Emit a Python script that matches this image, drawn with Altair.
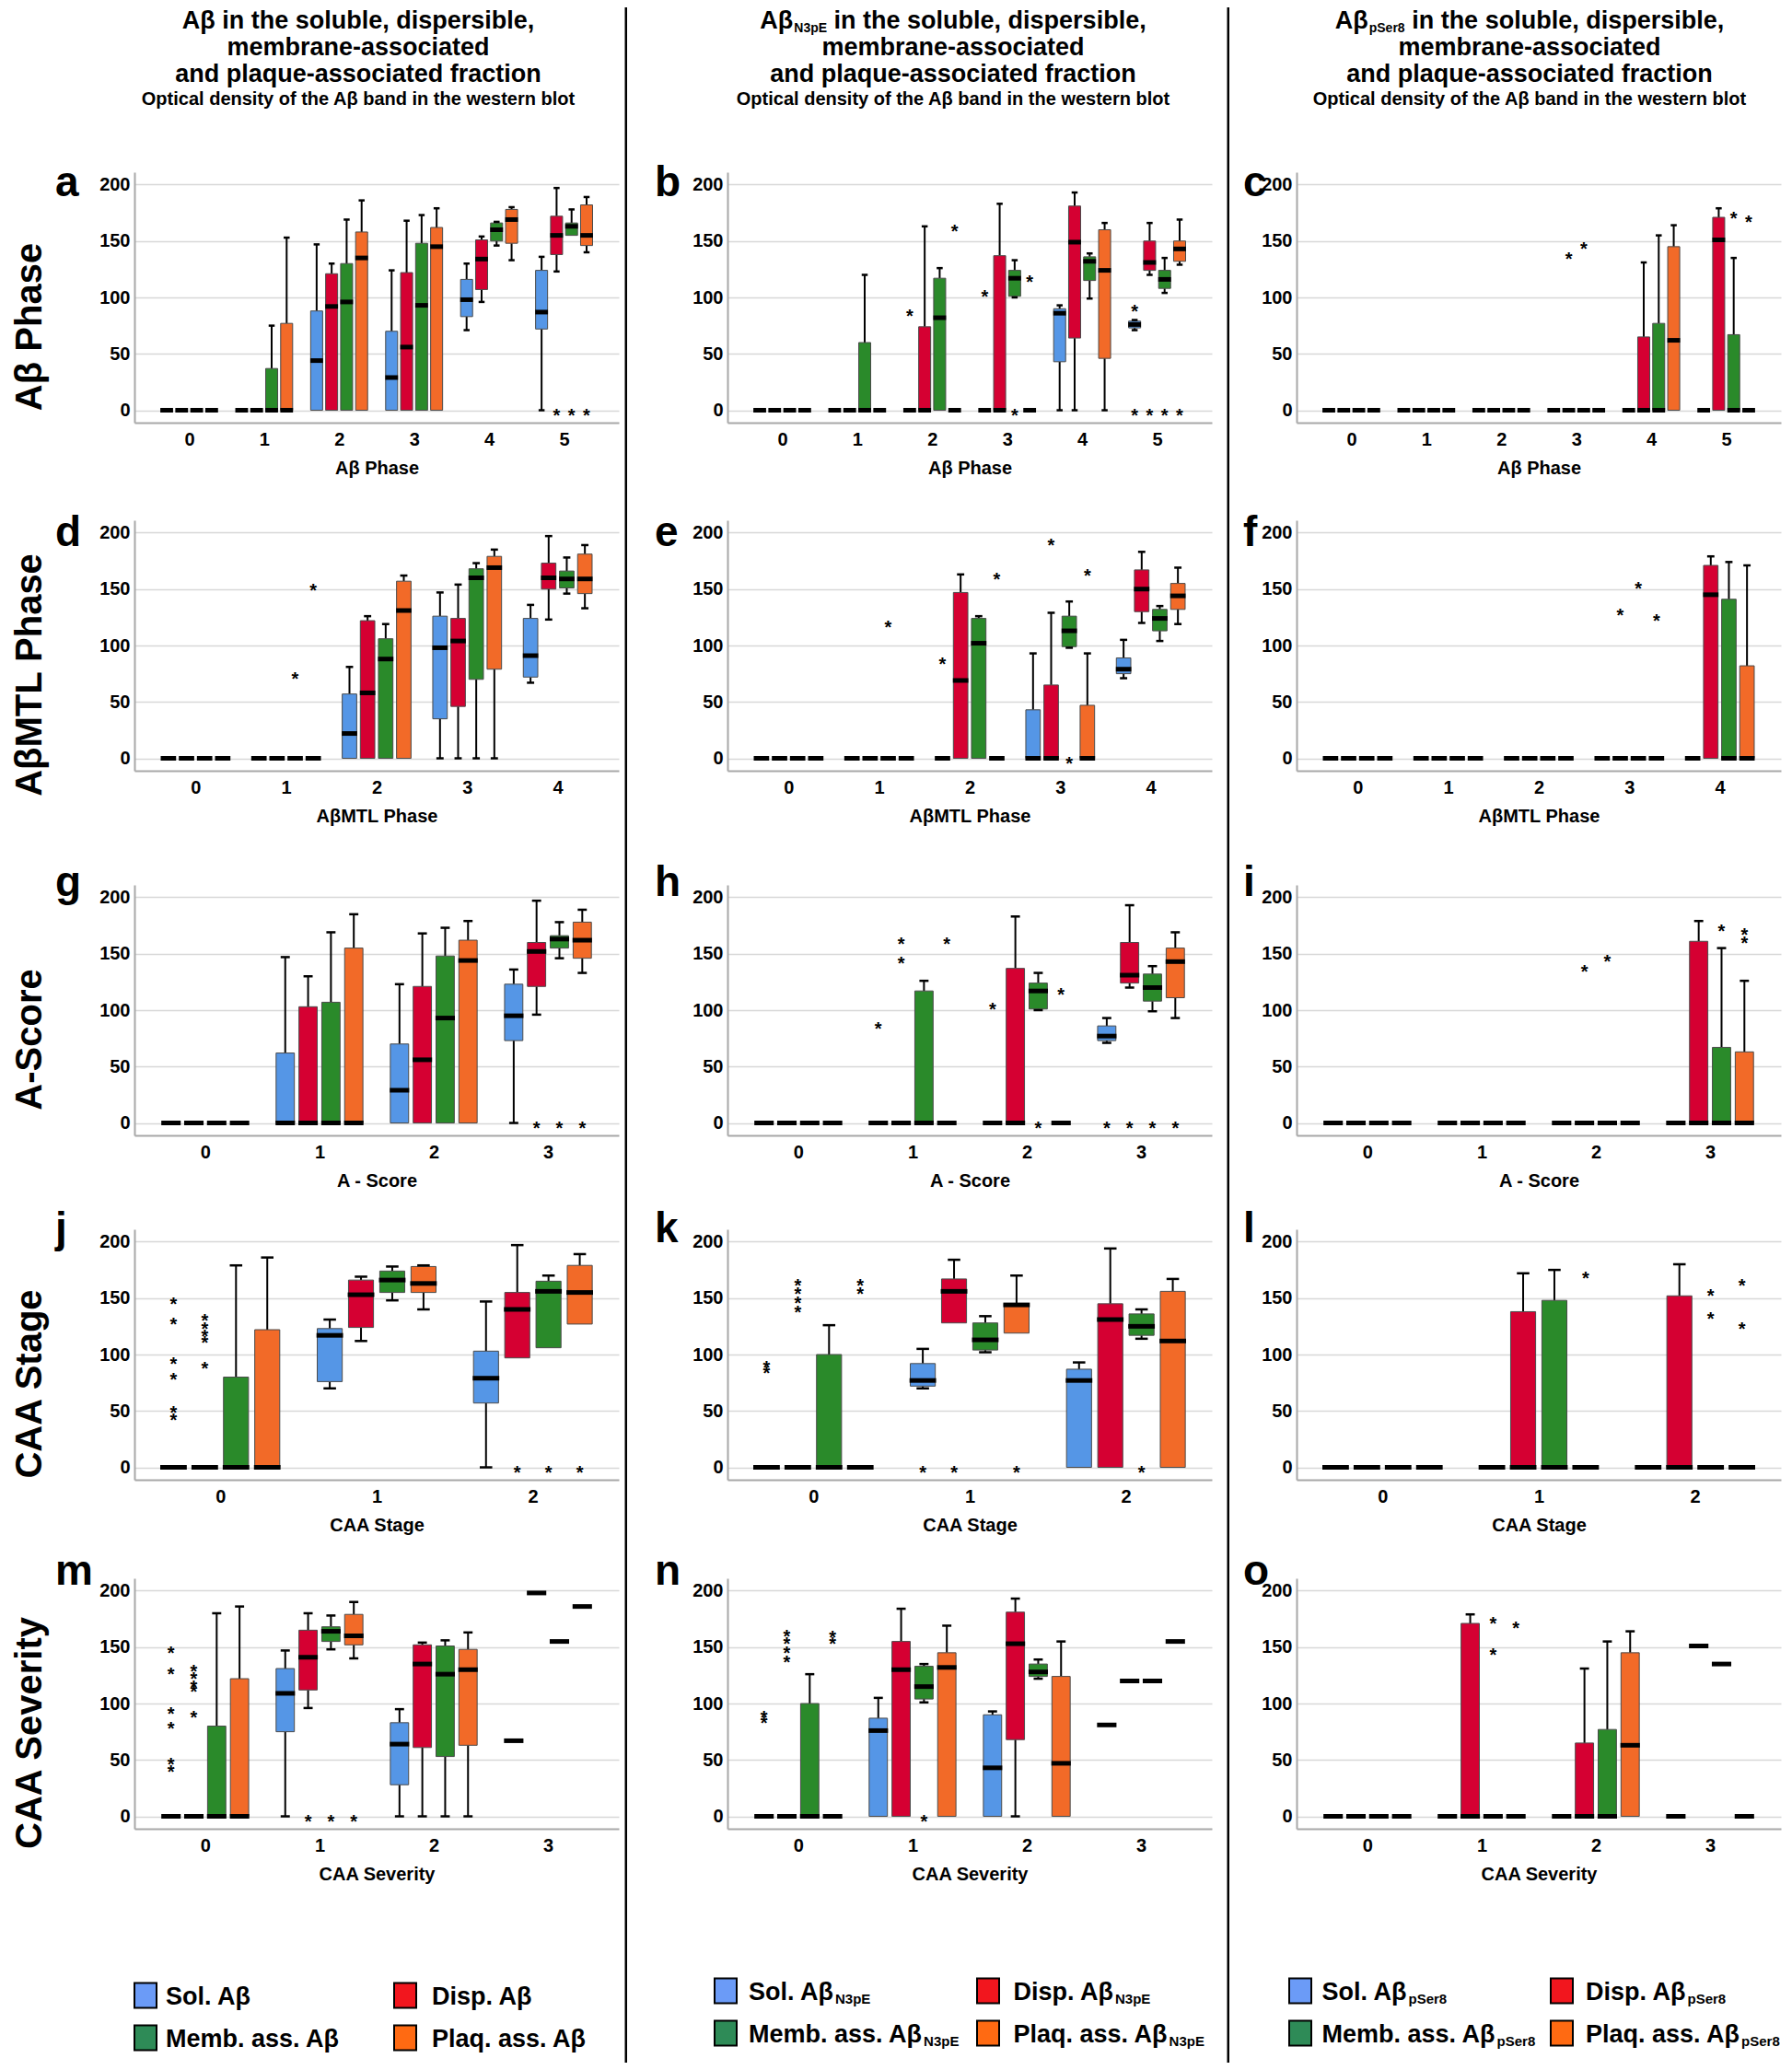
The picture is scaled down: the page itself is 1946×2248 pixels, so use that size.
import altair as alt
import pandas as pd

# ---------------------------------------------------------------- data
SERIES = ["Sol", "Disp", "Memb", "Plaq"]
BOX_COLORS = ["#5596E6", "#D50032", "#2A8A2A", "#F26A28"]
LEG_COLORS = ["#6B9BF7", "#F2161E", "#2E8B57", "#FF6A12"]
LEGEND_NAMES = ["Sol. Aβ", "Disp. Aβ", "Memb. ass. Aβ", "Plaq. ass. Aβ"]
SUBSCRIPTS = ["", "N3pE", "pSer8"]

ROW_LABELS = ["Aβ Phase", "AβMTL Phase", "A-Score", "CAA Stage", "CAA Severity"]
X_TITLES = ["Aβ Phase", "AβMTL Phase", "A - Score", "CAA Stage", "CAA Severity"]
X_CATS = [[0, 1, 2, 3, 4, 5], [0, 1, 2, 3, 4], [0, 1, 2, 3], [0, 1, 2], [0, 1, 2, 3]]
LETTERS = [["a", "b", "c"], ["d", "e", "f"], ["g", "h", "i"], ["j", "k", "l"], ["m", "n", "o"]]
HEAD_LINES = ["in the soluble, dispersible,", "membrane-associated",
              "and plaque-associated fraction",
              "Optical density of the Aβ band in the western blot"]

Z = [0, 0, 0, 0, 0]
# per category: [lower whisker, Q1, median, Q3, upper whisker]
A_BOX = {
    "Sol":  [Z, Z, [0, 0, 44, 88, 147], [0, 0, 29, 70, 124], [71, 83, 98, 116, 130], [0, 72, 87, 124, 136]],
    "Disp": [Z, Z, [0, 0, 92, 121, 130], [0, 0, 56, 122, 168], [96, 107, 134, 151, 154], [123, 138, 155, 172, 197]],
    "Memb": [Z, [0, 0, 0, 37, 75], [0, 0, 96, 130, 169], [0, 0, 93, 148, 173], [146, 150, 160, 166, 167], [155, 155, 163, 166, 178]],
    "Plaq": [Z, [0, 0, 0, 77, 153], [0, 0, 135, 158, 186], [0, 0, 145, 162, 179], [133, 148, 169, 178, 180], [140, 146, 155, 182, 189]],
}
A_OUT = [(5, "Disp", 0), (5, "Memb", 0), (5, "Plaq", 0)]

B_BOX = {
    "Sol":  [Z, Z, Z, Z, [0, 43, 86, 90, 93], [71, 73, 76, 79, 80]],
    "Disp": [Z, Z, [0, 0, 0, 74, 163], [0, 0, 0, 137, 183], [0, 64, 149, 181, 193], [120, 124, 131, 150, 166]],
    "Memb": [Z, [0, 0, 0, 60, 120], [0, 0, 82, 117, 126], [100, 101, 117, 124, 133], [99, 115, 132, 136, 139], [104, 108, 116, 124, 135]],
    "Plaq": [Z, Z, Z, Z, [0, 46, 124, 160, 166], [129, 132, 143, 150, 169]],
}
B_OUT = [(2, "Sol", 88), (2, "Plaq", 163), (3, "Sol", 105), (3, "Memb", 0), (3, "Plaq", 118),
         (5, "Sol", 92), (5, "Sol", 0), (5, "Disp", 0), (5, "Memb", 0), (5, "Plaq", 0)]

C_BOX = {
    "Sol":  [Z, Z, Z, Z, Z, Z],
    "Disp": [Z, Z, Z, Z, [0, 0, 0, 65, 131], [0, 0, 151, 171, 179]],
    "Memb": [Z, Z, Z, Z, [0, 0, 0, 77, 155], [0, 0, 0, 67, 135]],
    "Plaq": [Z, Z, Z, Z, [0, 0, 62, 145, 164], Z],
}
C_OUT = [(3, "Disp", 138), (3, "Memb", 147), (5, "Memb", 174), (5, "Plaq", 171)]

D_BOX = {
    "Sol":  [Z, Z, [0, 0, 22, 57, 81], [0, 35, 98, 126, 147], [67, 72, 91, 124, 136]],
    "Disp": [Z, Z, [0, 0, 58, 122, 126], [0, 46, 104, 124, 154], [123, 150, 160, 173, 197]],
    "Memb": [Z, Z, [0, 0, 88, 106, 119], [0, 70, 160, 168, 173], [146, 151, 159, 166, 178]],
    "Plaq": [Z, Z, [0, 0, 131, 157, 162], [0, 79, 169, 179, 185], [133, 146, 159, 181, 189]],
}
D_OUT = [(1, "Memb", 75), (1, "Plaq", 153)]

E_BOX = {
    "Sol":  [Z, Z, Z, [0, 0, 0, 43, 93], [71, 75, 79, 89, 105]],
    "Disp": [Z, Z, [0, 0, 69, 147, 163], [0, 0, 0, 65, 129], [120, 130, 150, 167, 183]],
    "Memb": [Z, Z, [0, 0, 102, 124, 126], [98, 99, 113, 126, 139], [104, 113, 124, 132, 135]],
    "Plaq": [Z, Z, Z, [0, 0, 0, 47, 93], [119, 132, 144, 155, 169]],
}
E_OUT = [(1, "Memb", 120), (2, "Sol", 88), (2, "Plaq", 163), (3, "Disp", 193), (3, "Memb", 0), (3, "Plaq", 166)]

F_BOX = {
    "Sol":  [Z, Z, Z, Z, Z],
    "Disp": [Z, Z, Z, Z, [0, 0, 145, 171, 179]],
    "Memb": [Z, Z, Z, Z, [0, 0, 0, 141, 174]],
    "Plaq": [Z, Z, Z, Z, [0, 0, 0, 82, 171]],
}
F_OUT = [(3, "Disp", 131), (3, "Memb", 155), (3, "Plaq", 126)]

G_BOX = {
    "Sol":  [Z, [0, 0, 0, 62, 147], [0, 0, 29, 70, 123], [0, 73, 95, 123, 136]],
    "Disp": [Z, [0, 0, 0, 103, 130], [0, 0, 56, 121, 168], [96, 121, 152, 160, 197]],
    "Memb": [Z, [0, 0, 0, 107, 169], [0, 0, 93, 148, 173], [146, 155, 163, 166, 178]],
    "Plaq": [Z, [0, 0, 0, 155, 185], [0, 0, 144, 162, 179], [133, 146, 162, 178, 189]],
}
G_OUT = [(3, "Disp", 0), (3, "Memb", 0), (3, "Plaq", 0)]

H_BOX = {
    "Sol":  [Z, Z, Z, [71, 73, 77, 86, 93]],
    "Disp": [Z, Z, [0, 0, 0, 137, 183], [120, 124, 131, 160, 193]],
    "Memb": [Z, [0, 0, 0, 117, 126], [100, 101, 117, 124, 133], [99, 108, 120, 132, 139]],
    "Plaq": [Z, Z, Z, [93, 111, 143, 155, 169]],
}
H_OUT = [(1, "Sol", 88), (1, "Disp", 163), (1, "Disp", 146), (1, "Plaq", 163), (2, "Sol", 105),
         (2, "Memb", 0), (2, "Plaq", 118), (3, "Sol", 0), (3, "Disp", 0), (3, "Memb", 0), (3, "Plaq", 0)]

I_BOX = {
    "Sol":  [Z, Z, Z, Z],
    "Disp": [Z, Z, Z, [0, 0, 0, 161, 179]],
    "Memb": [Z, Z, Z, [0, 0, 0, 67, 155]],
    "Plaq": [Z, Z, Z, [0, 0, 0, 63, 126]],
}
I_OUT = [(2, "Disp", 138), (2, "Memb", 147), (3, "Memb", 174), (3, "Plaq", 171), (3, "Plaq", 164)]

J_BOX = {
    "Sol":  [Z, [70, 76, 117, 123, 131], [0, 57, 79, 103, 147]],
    "Disp": [Z, [112, 124, 153, 166, 169], [97, 97, 140, 155, 197]],
    "Memb": [[0, 0, 0, 80, 179], [148, 155, 166, 174, 178], [106, 106, 156, 165, 170]],
    "Plaq": [[0, 0, 0, 122, 186], [140, 155, 163, 178, 179], [127, 127, 155, 179, 189]],
}
J_OUT = [(0, "Sol", 149), (0, "Sol", 131), (0, "Sol", 96), (0, "Sol", 82), (0, "Sol", 53), (0, "Sol", 46),
         (0, "Disp", 134), (0, "Disp", 127), (0, "Disp", 120), (0, "Disp", 115), (0, "Disp", 92),
         (2, "Disp", 0), (2, "Memb", 0), (2, "Plaq", 0)]

K_BOX = {
    "Sol":  [Z, [70, 72, 77, 92, 105], [0, 0, 77, 87, 93]],
    "Disp": [Z, [128, 128, 156, 167, 184], [0, 0, 131, 145, 194]],
    "Memb": [[0, 0, 0, 100, 126], [102, 104, 113, 128, 134], [114, 117, 125, 136, 140]],
    "Plaq": [Z, [119, 119, 144, 145, 170], [0, 0, 112, 156, 167]],
}
K_OUT = [(0, "Sol", 93), (0, "Sol", 88), (0, "Disp", 165), (0, "Disp", 158), (0, "Disp", 150), (0, "Disp", 142),
         (0, "Plaq", 165), (0, "Plaq", 158), (1, "Sol", 0), (1, "Disp", 0), (1, "Plaq", 0), (2, "Memb", 0)]

L_BOX = {
    "Sol":  [Z, Z, Z],
    "Disp": [Z, [0, 0, 0, 138, 172], [0, 0, 0, 152, 180]],
    "Memb": [Z, [0, 0, 0, 148, 175], Z],
    "Plaq": [Z, Z, Z],
}
L_OUT = [(1, "Plaq", 172), (2, "Memb", 156), (2, "Memb", 136), (2, "Plaq", 165), (2, "Plaq", 127)]

M_BOX = {
    "Sol":  [Z, [0, 75, 109, 131, 147], [0, 28, 64, 83, 95], [67, 67, 67, 67, 67]],
    "Disp": [Z, [96, 112, 141, 165, 180], [0, 61, 135, 152, 154], [198, 198, 198, 198, 198]],
    "Memb": [[0, 0, 0, 80, 180], [148, 155, 164, 168, 178], [0, 53, 126, 151, 156], [155, 155, 155, 155, 155]],
    "Plaq": [[0, 0, 0, 122, 186], [140, 152, 160, 179, 190], [0, 63, 130, 148, 163], [186, 186, 186, 186, 186]],
}
M_OUT = [(0, "Sol", 149), (0, "Sol", 130), (0, "Sol", 95), (0, "Sol", 82), (0, "Sol", 50), (0, "Sol", 44),
         (0, "Disp", 133), (0, "Disp", 126), (0, "Disp", 119), (0, "Disp", 115), (0, "Disp", 92),
         (1, "Disp", 0), (1, "Memb", 0), (1, "Plaq", 0)]

N_BOX = {
    "Sol":  [Z, [0, 0, 76, 87, 105], [0, 0, 43, 90, 93], [81, 81, 81, 81, 81]],
    "Disp": [Z, [0, 0, 130, 155, 184], [0, 68, 153, 181, 193], [120, 120, 120, 120, 120]],
    "Memb": [[0, 0, 0, 100, 126], [101, 104, 115, 133, 135], [122, 124, 128, 135, 139], [120, 120, 120, 120, 120]],
    "Plaq": [Z, [0, 0, 132, 145, 169], [0, 0, 47, 124, 155], [155, 155, 155, 155, 155]],
}
N_OUT = [(0, "Sol", 92), (0, "Sol", 87), (0, "Disp", 164), (0, "Disp", 157), (0, "Disp", 149), (0, "Disp", 141),
         (0, "Plaq", 163), (0, "Plaq", 157), (1, "Memb", 0)]

O_BOX = {
    "Sol":  [Z, Z, Z, Z],
    "Disp": [Z, [0, 0, 0, 171, 179], [0, 0, 0, 65, 131], [151, 151, 151, 151, 151]],
    "Memb": [Z, Z, [0, 0, 0, 77, 155], [135, 135, 135, 135, 135]],
    "Plaq": [Z, Z, [0, 0, 63, 145, 164], Z],
}
O_OUT = [(1, "Memb", 175), (1, "Memb", 147), (1, "Plaq", 171)]

PANELS = [[(A_BOX, A_OUT), (B_BOX, B_OUT), (C_BOX, C_OUT)],
          [(D_BOX, D_OUT), (E_BOX, E_OUT), (F_BOX, F_OUT)],
          [(G_BOX, G_OUT), (H_BOX, H_OUT), (I_BOX, I_OUT)],
          [(J_BOX, J_OUT), (K_BOX, K_OUT), (L_BOX, L_OUT)],
          [(M_BOX, M_OUT), (N_BOX, N_OUT), (O_BOX, O_OUT)]]

# ---------------------------------------------------------------- layout / style
FONT = "Liberation Sans"
W, H = 526, 272
COL_L = [138, 109, 73]
COL_R = [9, 19, 4]
ROW_T = [27, 36, 54, 36, 45]
ROW_B = [70, 70, 66, 62, 94]
HEAD_H, LEG_H = 152, 160
PAD_OUTER = {6: 0.33, 5: 0.275, 4: 0.22, 3: 0.15}   # empty margin beyond the clusters, in category steps
SUB_STEP = 0.2     # distance between neighbouring boxes, in category steps
BOX_HALF = 0.08    # half width of a box, in category steps
CAP_HALF = 0.04
MED_HALF = 0.085
LETTER_X = [-86, -79, -58]
LETTER_BASE = [26, 28, 12, 14, 7]
ROW_LABEL_X, ROW_LABEL_Y = -113, 168
# positions below are measured from the left edge of each column's box
HEAD_CX = [381, 354, 326]
HEAD_BASE = [23, 51.5, 81, 106]
HEAD_FS, HEAD_SUB_FS, HEAD_NOTE_FS = 27, 14, 20
LEG_SWX = [[150, 432], [107, 392], [77, 361]]
LEG_LX = [[172, 461], [132, 419.5], [100.5, 387]]
LEG_Y = [[87, 133], [82, 128], [82, 128]]
LEG_FS, LEG_SUB_FS = 27, 15
AX_FS = 20
SEP_W = 2.5
Y_DOMAIN = [-11, 211]

CW = {' ': 278, ',': 278, '.': 278, '-': 333, 'A': 722, 'β': 611, 'N': 722, 'E': 667, 'S': 667,
      'M': 833, 'P': 667, 'D': 722, '3': 556, '8': 556, 'a': 556, 'b': 611, 'c': 556, 'd': 611,
      'e': 556, 'f': 333, 'g': 611, 'h': 611, 'i': 278, 'l': 278, 'm': 889, 'n': 611, 'o': 611,
      'p': 611, 'q': 611, 'r': 389, 's': 556, 't': 333, 'u': 611, 'w': 778, 'y': 556}


def tw(s, fs):
    return sum(CW.get(ch, 556) for ch in s) * fs / 1000.0


DUMMY = pd.DataFrame({"k": [0]})


def vrect(x1, x2, y1, y2, **kw):
    return alt.Chart(DUMMY).mark_rect(**kw).encode(
        x=alt.value(x1), x2=alt.value(x2), y=alt.value(y1), y2=alt.value(y2))


def vtext(txt, x, y, size, align="left", baseline="alphabetic", angle=0, weight="bold"):
    kw = dict(text=txt, fontSize=size, fontWeight=weight, font=FONT, align=align,
              baseline=baseline, color="black")
    if angle:
        kw["angle"] = angle
    return alt.Chart(DUMMY).mark_text(**kw).encode(x=alt.value(x), y=alt.value(y))


YAXIS = alt.Axis(values=[0, 50, 100, 150, 200], grid=True, gridColor="#d8d8d8", gridWidth=1.5,
                 domain=True, domainColor="#a8a8a8", domainWidth=2, ticks=False,
                 labelFontSize=AX_FS, labelFontWeight="bold", labelColor="black", labelPadding=5,
                 labelFont=FONT, title=None)


def xaxis(title, cats):
    return alt.Axis(values=cats, format="d", labelAngle=0, ticks=False, domain=True,
                    domainColor="#a8a8a8", domainWidth=2, labelFontSize=AX_FS,
                    labelFontWeight="bold", labelColor="black", labelPadding=8, labelFont=FONT,
                    titleFont=FONT, titleFontSize=AX_FS, titleFontWeight="bold",
                    titleColor="black", titlePadding=11, grid=False, title=title)


def panel(r, c):
    box, outl = PANELS[r][c]
    cats = X_CATS[r]
    n = len(cats)
    po = PAD_OUTER[n]
    L, R, T, B = COL_L[c], COL_R[c], ROW_T[r], ROW_B[r]

    def xpos(i, s):
        return cats[i] + (SERIES.index(s) - 1.5) * SUB_STEP

    rows = []
    for s in SERIES:
        for i in range(n):
            lo, q1, med, q3, hi = box[s][i]
            p = xpos(i, s)
            rows.append(dict(series=s, pos=p, bx1=p - BOX_HALF, bx2=p + BOX_HALF,
                             cx1=p - CAP_HALF, cx2=p + CAP_HALF, mx1=p - MED_HALF, mx2=p + MED_HALF,
                             lo=lo, q1=q1, med=med, q3=q3, hi=hi))
    df = pd.DataFrame(rows)
    out = pd.DataFrame([dict(pos=xpos(i, s), value=v) for i, s, v in outl])

    XS = alt.Scale(domain=[cats[0] - 0.4 - po, cats[-1] + 0.4 + po], nice=False, zero=False)
    XA = xaxis(X_TITLES[r], cats)
    YS = alt.Scale(domain=Y_DOMAIN, nice=False, zero=False)

    def X(f):
        return alt.X(f"{f}:Q", scale=XS, axis=XA)

    def Y(f):
        return alt.Y(f"{f}:Q", scale=YS, axis=YAXIS)

    layers = [vrect(-L, W + R, -T, H + B, opacity=0)]
    if c < 2:
        layers.append(vrect(W + R - SEP_W, W + R, -T, H + B, color="black"))

    up = df[df.hi > df.q3]
    low = df[df.lo < df.q1]
    if len(up):
        layers.append(alt.Chart(up).mark_rule(color="black", strokeWidth=2).encode(
            x=X("pos"), y=Y("q3"), y2="hi:Q"))
    if len(low):
        layers.append(alt.Chart(low).mark_rule(color="black", strokeWidth=2).encode(
            x=X("pos"), y=Y("lo"), y2="q1:Q"))
    boxes = df[df.q3 > df.q1]
    if len(boxes):
        layers.append(alt.Chart(boxes).mark_rect(stroke="#4a4a4a", strokeWidth=1, opacity=1).encode(
            x=X("bx1"), x2="bx2:Q", y=Y("q1"), y2="q3:Q",
            color=alt.Color("series:N", scale=alt.Scale(domain=SERIES, range=BOX_COLORS), legend=None)))
    if len(up):
        layers.append(alt.Chart(up).mark_rule(color="black", strokeWidth=2.5).encode(
            x=X("cx1"), x2="cx2:Q", y=Y("hi")))
    if len(low):
        layers.append(alt.Chart(low).mark_rule(color="black", strokeWidth=2.5).encode(
            x=X("cx1"), x2="cx2:Q", y=Y("lo")))
    layers.append(alt.Chart(df).mark_rule(color="black", strokeWidth=5).encode(
        x=X("mx1"), x2="mx2:Q", y=Y("med")))
    if len(out):
        layers.append(alt.Chart(out).mark_text(text="*", fontSize=20, fontWeight="bold", font=FONT,
                                               color="black", dy=6).encode(
            x=X("pos"), y=Y("value")))

    layers.append(vtext(LETTERS[r][c], LETTER_X[c], LETTER_BASE[r], 46))
    if c == 0:
        layers.append(vtext(ROW_LABELS[r], ROW_LABEL_X, ROW_LABEL_Y, 40, align="center",
                            baseline="middle", angle=270))
    return alt.layer(*layers).properties(width=W, height=H)


def header(c):
    # origin of this cell is aligned with the plot area of the panels below
    L, R = COL_L[c], COL_R[c]
    cx = HEAD_CX[c] - L
    layers = [vrect(-L, W + R, 0, HEAD_H, opacity=0)]
    if c < 2:
        layers.append(vrect(W + R - SEP_W, W + R, 0, HEAD_H, color="black"))
    sub = SUBSCRIPTS[c]
    if sub:
        total = tw("Aβ", HEAD_FS) + 1 + tw(sub, HEAD_SUB_FS) + tw(" ", HEAD_FS) + tw(HEAD_LINES[0], HEAD_FS)
        x0 = cx - total / 2
        layers.append(vtext("Aβ", x0, HEAD_BASE[0], HEAD_FS))
        xs = x0 + tw("Aβ", HEAD_FS) + 1
        layers.append(vtext(sub, xs, HEAD_BASE[0] + 4, HEAD_SUB_FS))
        layers.append(vtext(HEAD_LINES[0], xs + tw(sub, HEAD_SUB_FS) + tw(" ", HEAD_FS), HEAD_BASE[0], HEAD_FS))
    else:
        layers.append(vtext("Aβ " + HEAD_LINES[0], cx, HEAD_BASE[0], HEAD_FS, align="center"))
    layers.append(vtext(HEAD_LINES[1], cx, HEAD_BASE[1], HEAD_FS, align="center"))
    layers.append(vtext(HEAD_LINES[2], cx, HEAD_BASE[2], HEAD_FS, align="center"))
    layers.append(vtext(HEAD_LINES[3], cx, HEAD_BASE[3], HEAD_NOTE_FS, align="center"))
    return alt.layer(*layers).properties(width=W, height=HEAD_H)


def legend(c):
    L, R = COL_L[c], COL_R[c]
    layers = [vrect(-L, W + R, 0, LEG_H, opacity=0)]
    if c < 2:
        layers.append(vrect(W + R - SEP_W, W + R, 0, LEG_H, color="black"))
    for k in range(4):
        rr, cc = divmod(k, 2)
        sx, lx, y = LEG_SWX[c][cc] - L, LEG_LX[c][cc] - L, LEG_Y[c][rr]
        layers.append(vrect(sx - 12, sx + 12, y - 13.5, y + 13.5, fill=LEG_COLORS[k],
                            stroke="black", strokeWidth=2))
        name = LEGEND_NAMES[k]
        layers.append(vtext(name, lx, y + 9.7, LEG_FS))
        if SUBSCRIPTS[c]:
            layers.append(vtext(SUBSCRIPTS[c], lx + tw(name, LEG_FS) + 1, y + 14, LEG_SUB_FS))
    return alt.layer(*layers).properties(width=W, height=LEG_H)


cells = [header(c) for c in range(3)]
for r in range(5):
    for c in range(3):
        cells.append(panel(r, c))
cells += [legend(c) for c in range(3)]

chart = alt.concat(*cells, columns=3, spacing=0, bounds="full", align="each").properties(
    padding=0, background="white"
).configure(font=FONT).configure_view(stroke=None)

chart.save("out.html", embed_options={"renderer": "svg", "actions": False})
